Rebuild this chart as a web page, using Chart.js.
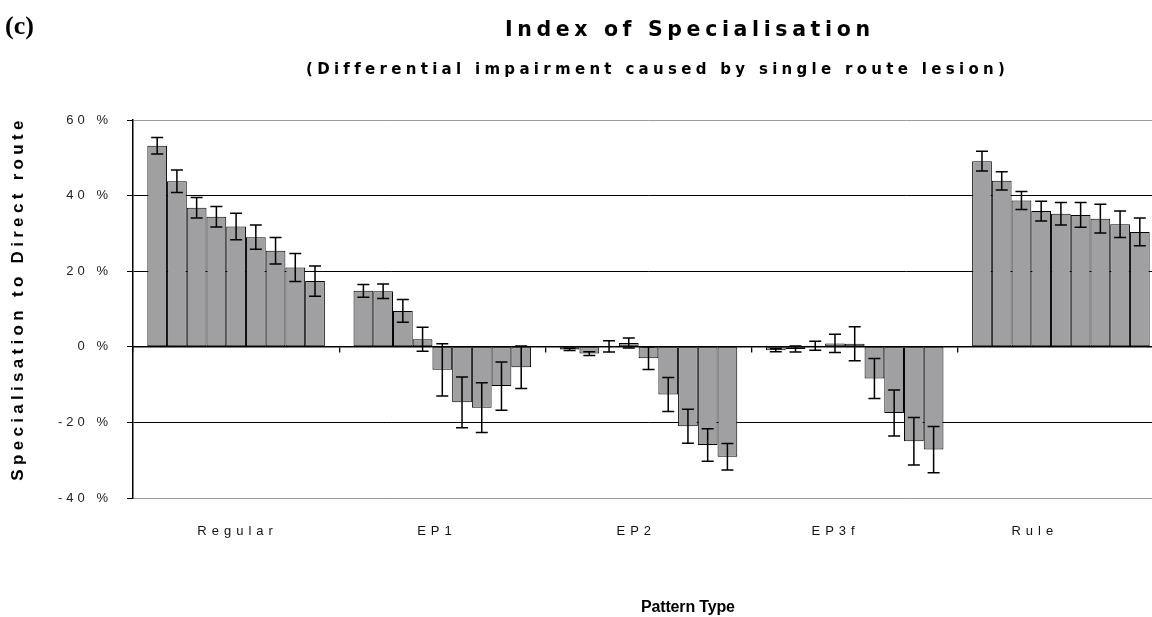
<!DOCTYPE html>
<html><head><meta charset="utf-8">
<script src="https://cdn.jsdelivr.net/npm/chart.js@4.4.1/dist/chart.umd.min.js"></script>
<style>
html,body{margin:0;padding:0;background:#fff;}
body{width:1152px;height:617px;overflow:hidden;position:relative;}
#box{position:absolute;left:0;top:0;width:1180px;height:617px;}
.t{position:absolute;white-space:nowrap;font-family:"Liberation Sans",Arial,sans-serif;font-weight:bold;color:#000;line-height:1;}
.d{font-family:"DejaVu Sans","Liberation Sans",Arial,sans-serif;}
</style></head><body>
<div id="box"><canvas id="chart" width="1180" height="617"></canvas></div>
<div class="t" id="panel" style="font-family:'Liberation Serif','Times New Roman',serif;font-size:26px;">(c)</div>
<div class="t d" id="title" style="font-size:20.5px;">Index of Specialisation</div>
<div class="t d" id="subtitle" style="font-size:15px;">(Differential impairment caused by single route lesion)</div>
<div class="t" id="xtitle" style="font-size:16px;">Pattern Type</div>
<div class="t" id="ytitle" style="font-size:17px;">Specialisation to Direct route</div>
<script>
// ---- data (values in %) ----
const categories = ['Regular', 'EP1', 'EP2', 'EP3f', 'Rule'];
const regular    = [53.2, 43.8, 36.8, 34.4, 31.8, 29.0, 25.4, 21.0, 17.4];
const regularErr = [2.2, 3.0, 2.7, 2.7, 3.5, 3.2, 3.5, 3.7, 4.0];
const ep1        = [14.8, 14.7, 9.5, 2.0, -6.1, -14.7, -16.1, -10.4, -5.4];
const ep1Err     = [1.7, 1.9, 3.0, 3.2, 6.9, 6.7, 6.6, 6.4, 5.6];
const ep2        = [-0.7, -1.8, 0.1, 1.0, -3.0, -12.6, -21.0, -26.0, -29.1];
const ep2Err     = [0.3, 0.5, 1.5, 1.3, 3.0, 4.5, 4.5, 4.3, 3.5];
const ep3f       = [-0.9, -0.6, 0.3, 0.9, 0.8, -8.4, -17.5, -25.0, -27.2];
const ep3fErr    = [0.4, 0.8, 1.2, 2.4, 4.5, 5.3, 6.1, 6.3, 6.1];
const rule       = [49.1, 43.9, 38.7, 35.9, 35.2, 34.9, 33.9, 32.4, 30.4];
const ruleErr    = [2.6, 2.4, 2.4, 2.6, 3.0, 3.3, 3.8, 3.5, 3.7];
const yTickValues = [-40, -20, 0, 20, 40, 60];

const groups = [regular, ep1, ep2, ep3f, rule];
const groupErrs = [regularErr, ep1Err, ep2Err, ep3fErr, ruleErr];
const nSeries = regular.length;

const datasets = [];
const errSeries = [];
for (let k = 0; k < nSeries; k++) {
  datasets.push({
    label: 'Series ' + (k + 1),
    data: groups.map(g => g[k]),
    xAxisID: 'x',
    yAxisID: 'y',
    backgroundColor: '#a0a0a2',
    borderColor: '#000',
    borderWidth: 1,
    borderSkipped: false,
    categoryPercentage: 0.861,
    barPercentage: 1.0
  });
  errSeries.push(groupErrs.map(g => g[k]));
}

const errorBars = {
  id: 'errorBars',
  afterDatasetsDraw(chart) {
    const ctx = chart.ctx, ys = chart.scales.y;
    ctx.save();
    ctx.strokeStyle = '#000';
    ctx.lineWidth = 1.5;
    chart.data.datasets.forEach((ds, i) => {
      const meta = chart.getDatasetMeta(i);
      meta.data.forEach((bar, j) => {
        const v = ds.data[j], e = errSeries[i][j];
        const x = bar.x;
        const y1 = ys.getPixelForValue(v + e), y2 = ys.getPixelForValue(v - e);
        const hw = 6;
        ctx.beginPath();
        ctx.moveTo(x, y1); ctx.lineTo(x, y2);
        ctx.moveTo(x - hw, y1); ctx.lineTo(x + hw, y1);
        ctx.moveTo(x - hw, y2); ctx.lineTo(x + hw, y2);
        ctx.stroke();
      });
    });
    ctx.restore();
  }
};

const spacing = {
  id: 'spacing',
  afterLayout(chart) {
    const map = { xl: '5px', y: '4px' };
    Object.keys(map).forEach(id => {
      const s = chart.scales[id];
      if (!s || s._lsPatched) return;
      const orig = s.drawLabels;
      s.drawLabels = function (a) {
        const c = this.ctx; const p = c.letterSpacing;
        c.letterSpacing = map[id];
        orig.call(this, a);
        c.letterSpacing = p || '0px';
      };
      s._lsPatched = true;
    });
  }
};

const tickFont = { family: '"Liberation Sans", Arial, sans-serif', size: 13 };

const chart = new Chart(document.getElementById('chart'), {
  type: 'bar',
  data: { labels: categories, datasets },
  options: {
    responsive: false,
    animation: false,
    devicePixelRatio: 1,
    layout: { padding: { left: 0, right: 16, top: 120, bottom: 59 } },
    plugins: { legend: { display: false }, tooltip: { enabled: false }, title: { display: false } },
    scales: {
      // category axis that carries the bars, drawn along the 0 % line
      x: {
        type: 'category', offset: true, position: { y: 0 },
        grid: { display: true, drawOnChartArea: false, drawTicks: true, tickLength: 5, color: '#000', lineWidth: 1.3, offset: true },
        border: { display: true, color: '#000', width: 1.5 },
        ticks: { display: false },
        afterFit: s => { s.height = 0; }
      },
      // axis that carries the category names under the plot
      xl: {
        type: 'linear', position: 'bottom', min: -0.525, max: 4.648, offset: false, bounds: 'data',
        afterBuildTicks: s => { s.ticks = categories.map((c, i) => ({ value: i })); },
        grid: { display: false, drawTicks: false },
        border: { display: false },
        ticks: { padding: 26, maxRotation: 0, minRotation: 0, autoSkip: false, color: '#111', font: tickFont,
                 callback: v => categories[v] },
        afterFit: s => { s.height = 60; }
      },
      y: {
        min: -40, max: 60, position: 'left',
        afterBuildTicks: s => { s.ticks = yTickValues.map(v => ({ value: v })); },
        ticks: { padding: 15, color: '#222', font: tickFont, callback: v => v + ' %' },
        grid: {
          color: c => (c.tick && (c.tick.value === 60 || c.tick.value === -40)) ? '#9a9a9a' : '#000',
          lineWidth: 1, tickColor: '#000', tickLength: 6, drawTicks: true
        },
        border: { display: true, color: '#000', width: 1.5 },
        afterFit: s => { s.width = 133; }
      }
    }
  },
  plugins: [errorBars, spacing]
});

// ---- HTML titles ----
function fit(id, width) {
  const el = document.getElementById(id);
  el.style.letterSpacing = '0px';
  const w0 = el.getBoundingClientRect().width;
  const n = el.textContent.length;
  el.style.letterSpacing = ((width - w0) / (n - 1)) + 'px';
  return el;
}
function put(el, left, cy) {
  el.style.left = left + 'px';
  el.style.top = (cy - el.offsetHeight / 2) + 'px';
}
put(document.getElementById('panel'), 5, 26);
put(fit('title', 365), 505, 29);
put(fit('subtitle', 698), 306, 69);
put(fit('xtitle', 94), 641, 607);
const yt = fit('ytitle', 360);
yt.style.left = (17 - yt.offsetWidth / 2) + 'px';
yt.style.top = (298 - yt.offsetHeight / 2) + 'px';
yt.style.transform = 'rotate(-90deg)';
</script>
</body></html>
